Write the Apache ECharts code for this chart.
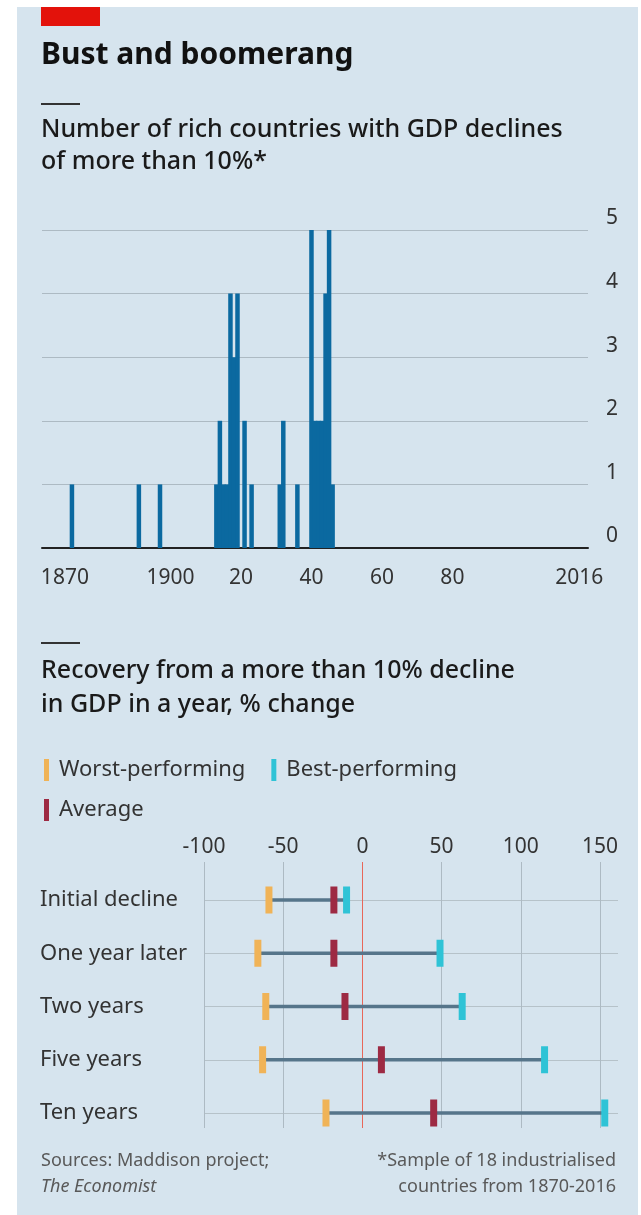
<!DOCTYPE html>
<html>
<head>
<meta charset="utf-8">
<title>Bust and boomerang</title>
<script src="https://cdn.jsdelivr.net/npm/echarts@6/dist/echarts.min.js"></script>
<style>
  html, body { margin: 0; padding: 0; background: #fff; }
  #chart { width: 641px; height: 1215px; }
</style>
</head>
<body>
<div id="chart"></div>
<script>
// top panel: years in which rich countries saw GDP fall by more than 10%
var crashYears = [1872, 1891, 1897, 1913, 1914, 1915, 1916, 1917, 1918, 1919, 1921, 1923,
  1931, 1932, 1936, 1940, 1941, 1942, 1943, 1944, 1945, 1946];
var crashCounts = [1, 1, 1, 1, 2, 1, 1, 4, 3, 4, 2, 1, 1, 2, 1, 5, 2, 2, 2, 4, 5, 1];
var firstYear = 1864, lastYear = 2018;
var tickYears = [1870, 1900, 1920, 1940, 1960, 1980, 2000, 2016];
var tickLabels = ['1870', '1900', '20', '40', '60', '80', '', '2016'];

// bottom panel: recovery after the decline, % change
var stages = ['Initial decline', 'One year later', 'Two years', 'Five years', 'Ten years'];
var worst = [-59, -66, -61, -63, -23];
var average = [-18, -18, -11, 12, 45];
var best = [-10, 49, 63, 115, 153];

var FONT = '"Noto Sans", sans-serif';
var BG = '#d6e4ee';
var GRID = '#adbac3';
var TEXT = '#333333';

var years = [];
for (var y = firstYear; y <= lastYear; y++) years.push(String(y));

function isTick(idx, val) { return tickYears.indexOf(+val) >= 0; }
function isLabel(idx, val) { var i = tickYears.indexOf(+val); return i >= 0 && tickLabels[i] !== ''; }

function text(x, y, str, size, extra) {
  var style = { x: x, y: y, text: str, fontSize: size, fontFamily: FONT, fill: '#1a1a1a', verticalAlign: 'middle' };
  for (var k in extra) style[k] = extra[k];
  return { type: 'text', style: style, silent: true };
}
function box(x, y, w, h, color) {
  return { type: 'rect', shape: { x: x, y: y, width: w, height: h }, style: { fill: color }, silent: true };
}

var chart = echarts.init(document.getElementById('chart'));

var option = {
  backgroundColor: BG,
  animation: false,
  textStyle: { fontFamily: FONT },
  graphic: [
    box(0, 0, 17, 1215, '#ffffff'),
    box(0, 0, 641, 7, '#ffffff'),
    box(638, 0, 3, 1215, '#ffffff'),
    box(41, 7, 59, 19, '#e3120b'),
    text(41, 55, 'Bust and boomerang', 30, { fontWeight: 'bold', fill: '#111111' }),
    box(41, 103, 39, 2, '#333333'),
    text(41, 130, 'Number of rich countries with GDP declines', 25, { fontWeight: 500 }),
    text(41, 162, 'of more than 10%*', 25, { fontWeight: 500 }),
    box(41, 642, 39, 2, '#333333'),
    text(41, 671, 'Recovery from a more than 10% decline', 25, { fontWeight: 500 }),
    text(41, 705, 'in GDP in a year, % change', 25, { fontWeight: 500 }),
    text(41, 1161, 'Sources: Maddison project;', 18, { fill: '#595959' }),
    text(41, 1187, 'The Economist', 18, { fill: '#595959', fontStyle: 'italic' }),
    text(616, 1161, '*Sample of 18 industrialised', 18, { fill: '#595959', align: 'right' }),
    text(616, 1187, 'countries from 1870-2016', 18, { fill: '#595959', align: 'right' })
  ],
  legend: [
    {
      data: ['Worst-performing', 'Best-performing'],
      left: 39, top: 754,
      icon: 'rect', itemWidth: 5, itemHeight: 22, itemGap: 26,
      selectedMode: false,
      textStyle: { fontSize: 22, color: TEXT, padding: [0, 0, 0, 5] }
    },
    {
      data: ['Average'],
      left: 39, top: 794,
      icon: 'rect', itemWidth: 5, itemHeight: 22,
      selectedMode: false,
      textStyle: { fontSize: 22, color: TEXT, padding: [0, 0, 0, 5] }
    }
  ],
  grid: [
    { left: 42, top: 230, width: 546, height: 318 },
    { left: 204, top: 862, width: 396, height: 266 },
    { left: 204, top: 900, width: 414, height: 213 }
  ],
  xAxis: [
    {
      type: 'category', gridIndex: 0, data: years, boundaryGap: true,
      axisLine: { lineStyle: { color: '#222222', width: 2 } },
      axisTick: { alignWithLabel: true, interval: isTick, length: 8, lineStyle: { color: '#333333', width: 1.5 } },
      axisLabel: {
        interval: isLabel, margin: 20, fontSize: 21, color: TEXT,
        formatter: function (val) { return tickLabels[tickYears.indexOf(+val)]; }
      },
      splitLine: { show: false }
    },
    {
      type: 'value', gridIndex: 1, position: 'top', min: -100, max: 150, interval: 50,
      axisLine: { show: false }, axisTick: { show: false },
      axisLabel: { margin: 4, fontSize: 21, color: TEXT },
      splitLine: { lineStyle: { color: [GRID, GRID, '#e8675a', GRID, GRID, GRID], width: 1 } }
    },
    {
      type: 'value', gridIndex: 2, min: -100, max: -100 + 414 * 250 / 396, show: false
    }
  ],
  yAxis: [
    {
      type: 'value', gridIndex: 0, position: 'right', min: 0, max: 5, interval: 1,
      axisLine: { show: false }, axisTick: { show: false },
      axisLabel: { margin: 18, align: 'left', verticalAlign: 'bottom', fontSize: 21, color: TEXT, padding: [0, 0, 1, 0] },
      splitLine: { lineStyle: { color: GRID, width: 1 } }
    },
    { type: 'value', gridIndex: 1, min: 0, max: 1, show: false },
    {
      type: 'category', gridIndex: 2, data: stages, inverse: true, boundaryGap: false,
      axisLine: { show: false }, axisTick: { show: false },
      axisLabel: { interval: 0, margin: 164, align: 'left', fontSize: 22, color: TEXT },
      splitLine: { show: true, interval: 0, lineStyle: { color: '#b6c2c9', width: 1 } }
    }
  ],
  series: [
    {
      name: 'GDP declines', type: 'bar', xAxisIndex: 0, yAxisIndex: 0,
      barWidth: 4.5,
      itemStyle: { color: '#0b69a0' },
      data: crashYears.map(function (yr, i) { return [String(yr), crashCounts[i]]; })
    },
    {
      name: 'range', type: 'custom', xAxisIndex: 2, yAxisIndex: 2,
      encode: { x: [0, 1], y: 2 },
      data: stages.map(function (s, i) { return [worst[i], best[i], i]; }),
      renderItem: function (params, api) {
        var a = api.coord([api.value(0), api.value(2)]);
        var b = api.coord([api.value(1), api.value(2)]);
        return {
          type: 'line',
          shape: { x1: a[0], y1: a[1], x2: b[0], y2: b[1] },
          style: { stroke: '#56758a', lineWidth: 3.5 }
        };
      },
      z: 3
    },
    {
      name: 'Worst-performing', type: 'scatter', xAxisIndex: 2, yAxisIndex: 2,
      symbol: 'rect', symbolSize: [7, 27], itemStyle: { color: '#f0b357', opacity: 1 },
      data: worst.map(function (v, i) { return [v, i]; }), z: 4
    },
    {
      name: 'Average', type: 'scatter', xAxisIndex: 2, yAxisIndex: 2,
      symbol: 'rect', symbolSize: [7, 27], itemStyle: { color: '#9d2a43', opacity: 1 },
      data: average.map(function (v, i) { return [v, i]; }), z: 4
    },
    {
      name: 'Best-performing', type: 'scatter', xAxisIndex: 2, yAxisIndex: 2,
      symbol: 'rect', symbolSize: [7, 27], itemStyle: { color: '#2fc3d6', opacity: 1 },
      data: best.map(function (v, i) { return [v, i]; }), z: 4
    }
  ]
};

chart.setOption(option);
</script>
</body>
</html>
